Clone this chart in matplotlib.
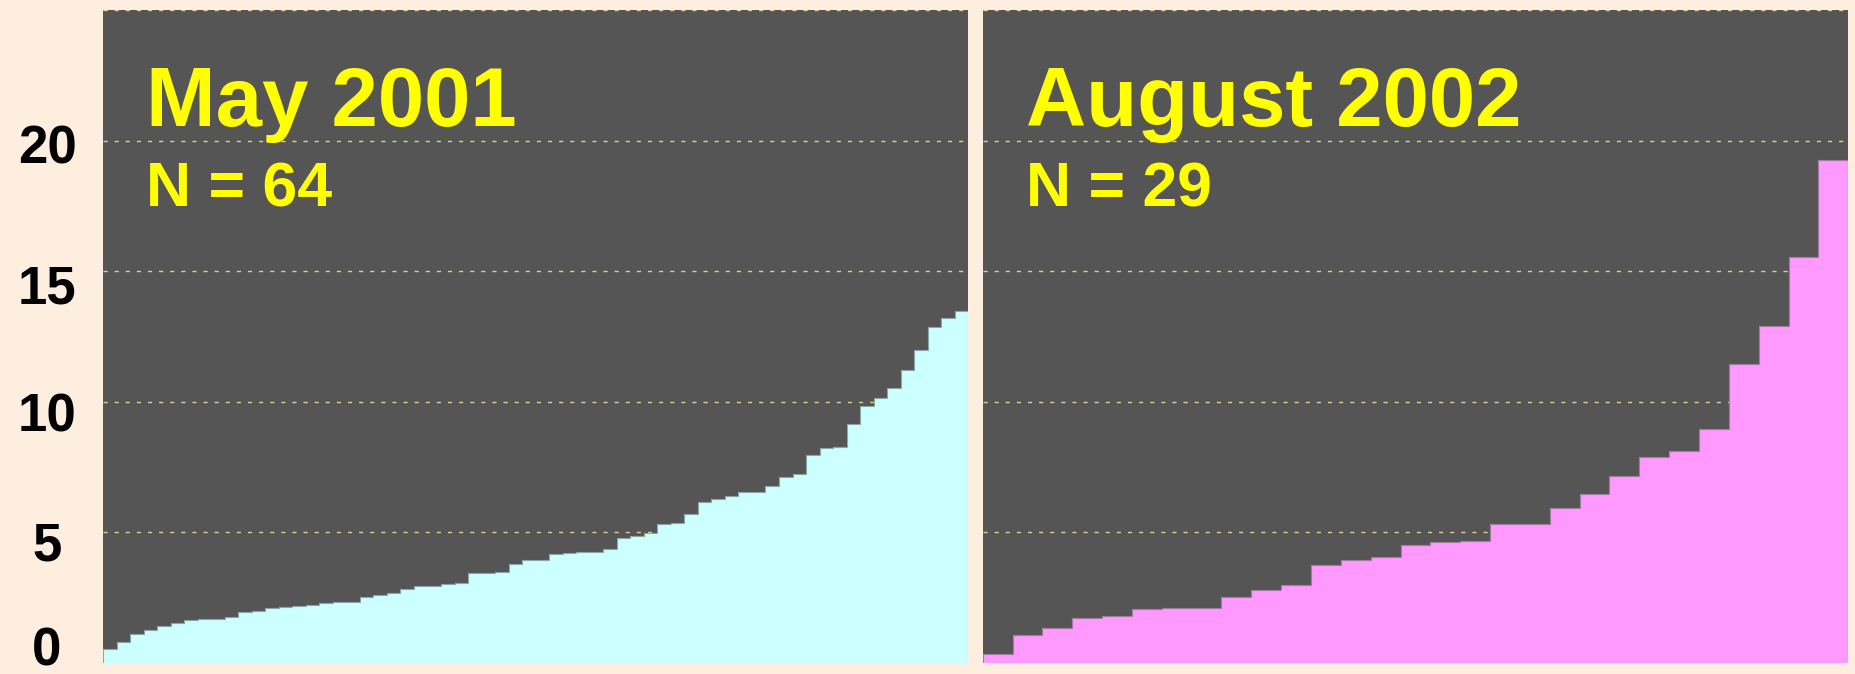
import matplotlib
matplotlib.use("Agg")
import matplotlib.pyplot as plt
import numpy as np
from matplotlib.transforms import ScaledTranslation, blended_transform_factory

plt.rcParams['font.family'] = ['Liberation Sans', 'DejaVu Sans']

# ---- data ----
may_2001 = [0.53, 0.82, 1.10, 1.25, 1.41, 1.55, 1.64, 1.69, 1.69, 1.75,
            1.97, 1.98, 2.10, 2.14, 2.20, 2.22, 2.28, 2.32, 2.34, 2.51,
            2.61, 2.67, 2.83, 2.93, 2.95, 3.02, 3.07, 3.44, 3.46, 3.50,
            3.79, 3.95, 3.95, 4.19, 4.22, 4.25, 4.25, 4.35, 4.79, 4.88,
            4.99, 5.33, 5.37, 5.72, 6.16, 6.26, 6.39, 6.55, 6.55, 6.78,
            7.13, 7.24, 7.95, 8.22, 8.27, 9.15, 9.85, 10.13, 10.54, 11.23,
            11.99, 12.88, 13.21, 13.49]
aug_2002 = [0.35, 1.06, 1.33, 1.74, 1.80, 2.05, 2.10, 2.10, 2.52, 2.80,
            2.98, 3.77, 3.96, 4.07, 4.52, 4.62, 4.67, 5.32, 5.32, 5.92,
            6.46, 7.16, 7.89, 8.12, 8.94, 11.46, 12.90, 15.55, 19.27]
panel_titles = ["May 2001", "August 2002"]
panel_counts = ["N = 64", "N = 29"]
y_ticks = [0, 5, 10, 15, 20, 25]
y_tick_labels = ["0", "5", "10", "15", "20"]
label_offsets_px = [-12, 14, 15.5, 18, 8.5]   # vertical nudge (px, downward)

# ---- style ----
fig_bg = '#feeee0'
ax_bg = '#555555'
bar_colors = ['#ccffff', '#ff99ff']
edge_colors = ['#8aa6a6', '#a07aa0']
grid_color = '#d8d48c'
text_yellow = '#ffff00'

W, H = 1855, 674
fig = plt.figure(figsize=(W / 100, H / 100), dpi=100, facecolor=fig_bg)

ax_bottom = (H - 663) / H
ax_height = 653 / H
axes = [
    fig.add_axes([103 / W, ax_bottom, 865.3 / W, ax_height]),
    fig.add_axes([982.7 / W, ax_bottom, 865.5 / W, ax_height]),
]

for i, (ax, data) in enumerate(zip(axes, [may_2001, aug_2002])):
    ax.set_facecolor(ax_bg)
    edges = np.arange(len(data) + 1)
    ax.stairs(data, edges, fill=True, color=bar_colors[i], linewidth=0, zorder=2)
    ax.stairs(data, edges, fill=False, color=edge_colors[i], linewidth=0.8, zorder=3)
    ax.set_xlim(0, len(data))
    ax.set_ylim(0, 25)
    ax.set_yticks(y_ticks)
    ax.set_xticks([])
    ax.tick_params(axis='y', length=0, labelleft=False)
    ax.set_axisbelow(True)
    ax.grid(axis='y', color=grid_color, linestyle=(0, (3, 5)), linewidth=1.0, zorder=0)
    for s in ax.spines.values():
        s.set_visible(False)
    ax.text(0.05, 0.822, panel_titles[i], transform=ax.transAxes,
            color=text_yellow, fontsize=60, fontweight='bold', va='baseline', ha='left', zorder=5)
    ax.text(0.05, 0.699, panel_counts[i], transform=ax.transAxes,
            color=text_yellow, fontsize=45, fontweight='bold', va='baseline', ha='left', zorder=5)

# y tick labels on left panel
ax0 = axes[0]
trans = blended_transform_factory(ax0.transAxes, ax0.transData)
for val, lab, off in zip(y_ticks, y_tick_labels, label_offsets_px):
    t = trans + ScaledTranslation(0, -off / 100, fig.dpi_scale_trans)
    fig.text(-56 / 865.3, val, lab, transform=t, ha='center', va='center',
             fontsize=38, fontweight='bold', color='black')

fig.savefig('out.png', dpi=100, facecolor=fig_bg)
